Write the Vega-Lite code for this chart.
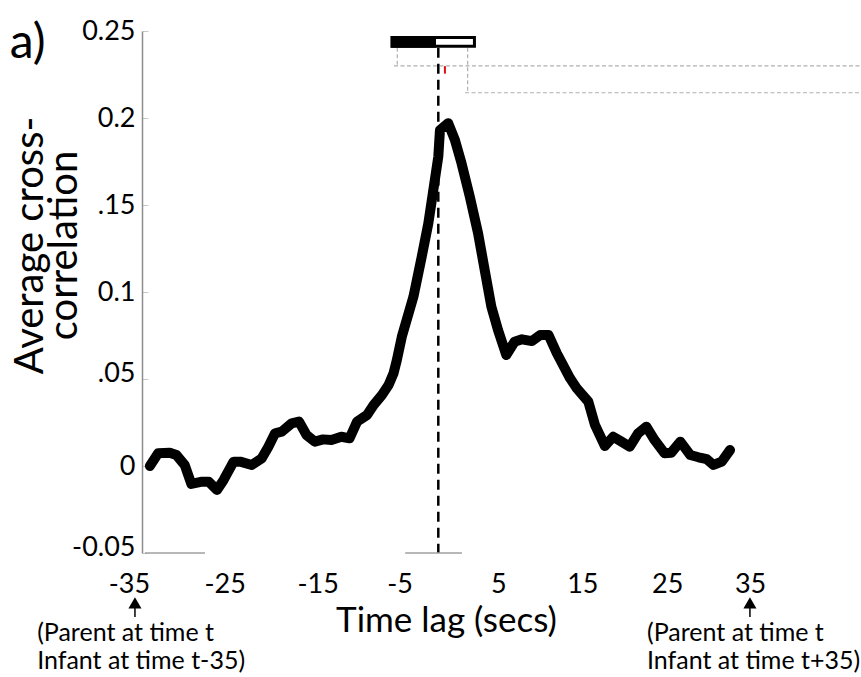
{
  "$schema": "https://vega.github.io/schema/vega-lite/v6.json",
  "description": "Average cross-correlation between parent and infant by time lag.",
  "autosize": "none",
  "width": 719,
  "height": 522,
  "padding": {"left": 142, "top": 31, "right": 0, "bottom": 124},
  "config": {
    "view": {"stroke": null},
    "font": "Lato"
  },
  "datasets": {
    "curve": [
      {"lag": -35.0, "value": 0.0}, {"lag": -34.0, "value": 0.0073}, {"lag": -32.6, "value": 0.0076},
      {"lag": -31.8, "value": 0.0063}, {"lag": -30.8, "value": 0.0006}, {"lag": -30.0, "value": -0.0103},
      {"lag": -28.7, "value": -0.009}, {"lag": -27.9, "value": -0.009}, {"lag": -26.9, "value": -0.0138},
      {"lag": -26.1, "value": -0.008}, {"lag": -24.9, "value": 0.0025}, {"lag": -24.1, "value": 0.0025},
      {"lag": -22.7, "value": 0.0006}, {"lag": -21.5, "value": 0.0044}, {"lag": -20.7, "value": 0.0111},
      {"lag": -19.9, "value": 0.0188}, {"lag": -19.1, "value": 0.0197}, {"lag": -17.9, "value": 0.0245},
      {"lag": -17.0, "value": 0.0255}, {"lag": -16.1, "value": 0.0178}, {"lag": -15.1, "value": 0.014},
      {"lag": -14.1, "value": 0.0153}, {"lag": -13.1, "value": 0.0149}, {"lag": -11.9, "value": 0.0168},
      {"lag": -10.9, "value": 0.0159}, {"lag": -10.0, "value": 0.0255}, {"lag": -8.8, "value": 0.0293},
      {"lag": -8.0, "value": 0.0351}, {"lag": -7.0, "value": 0.0408}, {"lag": -6.2, "value": 0.0466},
      {"lag": -5.6, "value": 0.0533}, {"lag": -5.2, "value": 0.0609}, {"lag": -4.6, "value": 0.0743},
      {"lag": -3.2, "value": 0.0973}, {"lag": -2.2, "value": 0.1203}, {"lag": -1.4, "value": 0.1395},
      {"lag": -0.8, "value": 0.1586}, {"lag": -0.2, "value": 0.1778}, {"lag": 0.0, "value": 0.1931},
      {"lag": 1.0, "value": 0.197}, {"lag": 1.8, "value": 0.1874}, {"lag": 2.6, "value": 0.174},
      {"lag": 3.6, "value": 0.1548}, {"lag": 4.6, "value": 0.1337}, {"lag": 5.4, "value": 0.1126},
      {"lag": 6.2, "value": 0.0916}, {"lag": 7.0, "value": 0.0782}, {"lag": 8.0, "value": 0.0638},
      {"lag": 9.0, "value": 0.0714}, {"lag": 9.9, "value": 0.0728}, {"lag": 11.1, "value": 0.0718},
      {"lag": 12.1, "value": 0.0753}, {"lag": 13.1, "value": 0.0753}, {"lag": 14.1, "value": 0.0648},
      {"lag": 15.7, "value": 0.0504}, {"lag": 16.5, "value": 0.0447}, {"lag": 17.9, "value": 0.037},
      {"lag": 18.7, "value": 0.0236}, {"lag": 19.9, "value": 0.0115}, {"lag": 20.9, "value": 0.0168},
      {"lag": 21.9, "value": 0.014}, {"lag": 22.9, "value": 0.0111}, {"lag": 23.9, "value": 0.0188},
      {"lag": 24.9, "value": 0.0226}, {"lag": 25.9, "value": 0.0149}, {"lag": 27.1, "value": 0.0073},
      {"lag": 27.9, "value": 0.0076}, {"lag": 29.0, "value": 0.014}, {"lag": 30.2, "value": 0.0063},
      {"lag": 31.2, "value": 0.005}, {"lag": 32.2, "value": 0.0039}, {"lag": 33.0, "value": 0.0006},
      {"lag": 34.0, "value": 0.0025}, {"lag": 35.0, "value": 0.0092}
    ],
    "greyGuides": [
      {"lag": -5.15, "lag_end": -5.15, "value": 0.2404, "value_end": 0.230},
      {"lag": -5.55, "lag_end": 50.8, "value": 0.230, "value_end": 0.230},
      {"lag": 3.34, "lag_end": 3.34, "value": 0.2404, "value_end": 0.2145},
      {"lag": 3.02, "lag_end": 50.8, "value": 0.2145, "value_end": 0.2145}
    ],
    "zeroLag": [
      {"lag": -0.2, "lag_end": -0.2, "value": 0.2404, "value_end": -0.05}
    ],
    "barOutline": [
      {"lag": -5.77, "lag_end": 4.16, "value": 0.2462, "value_end": 0.2412}
    ],
    "barFill": [
      {"lag": -5.95, "lag_end": -0.48, "value": 0.2471, "value_end": 0.2404}
    ],
    "redMark": [
      {"lag": 0.6, "lag_end": 0.6, "value": 0.2298, "value_end": 0.2255}
    ],
    "bottomLine": [
      {"lag": -35.6, "lag_end": -28.35, "value": -0.05, "value_end": -0.05},
      {"lag": -4.2, "lag_end": 2.65, "value": -0.05, "value_end": -0.05}
    ],
    "arrowHeads": [
      {"lag": -36.8, "value": -0.0787},
      {"lag": 37.4, "value": -0.0787}
    ],
    "arrowShafts": [
      {"lag": -36.8, "lag_end": -36.8, "value": -0.0816, "value_end": -0.0868},
      {"lag": 37.4, "lag_end": 37.4, "value": -0.0816, "value_end": -0.0868}
    ],
    "notes": [
      {"lag": -48.6, "value": -0.1006, "text": "(Parent at time t"},
      {"lag": -48.6, "value": -0.1167, "text": "Infant at time t-35)"},
      {"lag": 24.98, "value": -0.1006, "text": "(Parent at time t"},
      {"lag": 24.98, "value": -0.1167, "text": "Infant at time t+35)"}
    ],
    "panelLabel": [
      {"lag": -51.9, "value": 0.2345, "text": "a)"}
    ]
  },
  "layer": [
    {
      "data": {"name": "greyGuides"},
      "mark": {"type": "rule", "color": "#b0b0b0", "strokeWidth": 1.2, "strokeDash": [4, 2.5]},
      "encoding": {
        "x": {"field": "lag", "type": "quantitative"},
        "x2": {"field": "lag_end"},
        "y": {"field": "value", "type": "quantitative"},
        "y2": {"field": "value_end"}
      }
    },
    {
      "data": {"name": "zeroLag"},
      "mark": {"type": "rule", "color": "black", "strokeWidth": 2.5, "strokeDash": [10, 6]},
      "encoding": {
        "x": {"field": "lag", "type": "quantitative"},
        "x2": {"field": "lag_end"},
        "y": {"field": "value", "type": "quantitative"},
        "y2": {"field": "value_end"}
      }
    },
    {
      "data": {"name": "curve"},
      "mark": {"type": "line", "color": "black", "strokeWidth": 10, "strokeCap": "round", "strokeJoin": "round"},
      "encoding": {
        "x": {
          "field": "lag",
          "type": "quantitative",
          "title": "Time lag (secs)",
          "scale": {"domain": [-35.95, 50.8], "nice": false, "zero": false},
          "axis": {
            "values": [-35, -25, -15, -5, 5, 15, 25, 35],
            "labelExpr": "datum.value < 0 ? '-' + abs(datum.value) : '' + datum.value",
            "domain": false,
            "ticks": false,
            "tickSize": 0,
            "grid": false,
            "labelFont": "Lato",
            "labelFontSize": 27,
            "labelColor": "black",
            "labelBaseline": "alphabetic",
            "labelPadding": 39,
            "labelFlush": false,
            "labelOverlap": false,
            "labelOffset": {
              "condition": [
                {"test": "datum.value == -35", "value": -21},
                {"test": "datum.value == -25", "value": -8},
                {"test": "datum.value == -15", "value": 2},
                {"test": "datum.value == -5", "value": 1},
                {"test": "datum.value == 5", "value": 17},
                {"test": "datum.value == 15", "value": 18},
                {"test": "datum.value == 25", "value": 20},
                {"test": "datum.value == 35", "value": 20}
              ],
              "value": 0
            },
            "titleFont": "Lato",
            "titleFontSize": 35,
            "titleFontWeight": "normal",
            "titleColor": "black",
            "titleBaseline": "alphabetic",
            "titleAlign": "center",
            "titleX": 304,
            "titleY": 78
          }
        },
        "y": {
          "field": "value",
          "type": "quantitative",
          "title": ["Average cross-", "correlation"],
          "scale": {"domain": [-0.05, 0.25], "nice": false, "zero": false},
          "axis": {
            "values": [-0.05, 0, 0.05, 0.1, 0.15, 0.2, 0.25],
            "labelExpr": "datum.value < -0.01 ? '-0.05' : datum.value < 0.01 ? '0' : datum.value < 0.07 ? '.05' : datum.value < 0.12 ? '0.1' : datum.value < 0.17 ? '.15' : datum.value < 0.22 ? '0.2' : '0.25'",
            "domainColor": "#8c8c8c",
            "domainWidth": 1.5,
            "tickColor": "#c8c8c8",
            "tickSize": -6,
            "grid": false,
            "labelFont": "Lato",
            "labelFontSize": 27,
            "labelColor": "black",
            "labelPadding": 13,
            "labelFlush": false,
            "labelOverlap": false,
            "labelOffset": {
              "condition": [
                {"test": "abs(datum.value - 0.05) < 0.001", "value": -6},
                {"test": "abs(datum.value + 0.05) < 0.001", "value": -6}
              ],
              "value": 0
            },
            "titleFont": "Lato",
            "titleFontSize": 40,
            "titleFontWeight": "normal",
            "titleColor": "black",
            "titleLineHeight": 34,
            "titleAngle": 270,
            "titleAlign": "center",
            "titleBaseline": "top",
            "titleX": -132,
            "titleY": 214
          }
        }
      }
    },
    {
      "data": {"name": "barOutline"},
      "mark": {"type": "rect", "fill": "white", "stroke": "black", "strokeWidth": 3},
      "encoding": {
        "x": {"field": "lag", "type": "quantitative"},
        "x2": {"field": "lag_end"},
        "y": {"field": "value", "type": "quantitative"},
        "y2": {"field": "value_end"}
      }
    },
    {
      "data": {"name": "barFill"},
      "mark": {"type": "rect", "fill": "black"},
      "encoding": {
        "x": {"field": "lag", "type": "quantitative"},
        "x2": {"field": "lag_end"},
        "y": {"field": "value", "type": "quantitative"},
        "y2": {"field": "value_end"}
      }
    },
    {
      "data": {"name": "redMark"},
      "mark": {"type": "rule", "color": "#e01010", "strokeWidth": 2},
      "encoding": {
        "x": {"field": "lag", "type": "quantitative"},
        "x2": {"field": "lag_end"},
        "y": {"field": "value", "type": "quantitative"},
        "y2": {"field": "value_end"}
      }
    },
    {
      "data": {"name": "bottomLine"},
      "mark": {"type": "rule", "color": "#a0a0a0", "strokeWidth": 1.5},
      "encoding": {
        "x": {"field": "lag", "type": "quantitative"},
        "x2": {"field": "lag_end"},
        "y": {"field": "value", "type": "quantitative"},
        "y2": {"field": "value_end"}
      }
    },
    {
      "data": {"name": "arrowShafts"},
      "mark": {"type": "rule", "color": "black", "strokeWidth": 1.5},
      "encoding": {
        "x": {"field": "lag", "type": "quantitative"},
        "x2": {"field": "lag_end"},
        "y": {"field": "value", "type": "quantitative"},
        "y2": {"field": "value_end"}
      }
    },
    {
      "data": {"name": "arrowHeads"},
      "mark": {"type": "point", "shape": "triangle-up", "filled": true, "color": "black", "size": 170, "opacity": 1},
      "encoding": {
        "x": {"field": "lag", "type": "quantitative"},
        "y": {"field": "value", "type": "quantitative"}
      }
    },
    {
      "data": {"name": "notes"},
      "mark": {"type": "text", "font": "Lato", "fontSize": 25, "align": "left", "baseline": "alphabetic", "color": "black"},
      "encoding": {
        "x": {"field": "lag", "type": "quantitative"},
        "y": {"field": "value", "type": "quantitative"},
        "text": {"field": "text"}
      }
    },
    {
      "data": {"name": "panelLabel"},
      "mark": {"type": "text", "font": "Lato", "fontSize": 48, "align": "left", "baseline": "alphabetic", "color": "black"},
      "encoding": {
        "x": {"field": "lag", "type": "quantitative"},
        "y": {"field": "value", "type": "quantitative"},
        "text": {"field": "text"}
      }
    }
  ]
}
